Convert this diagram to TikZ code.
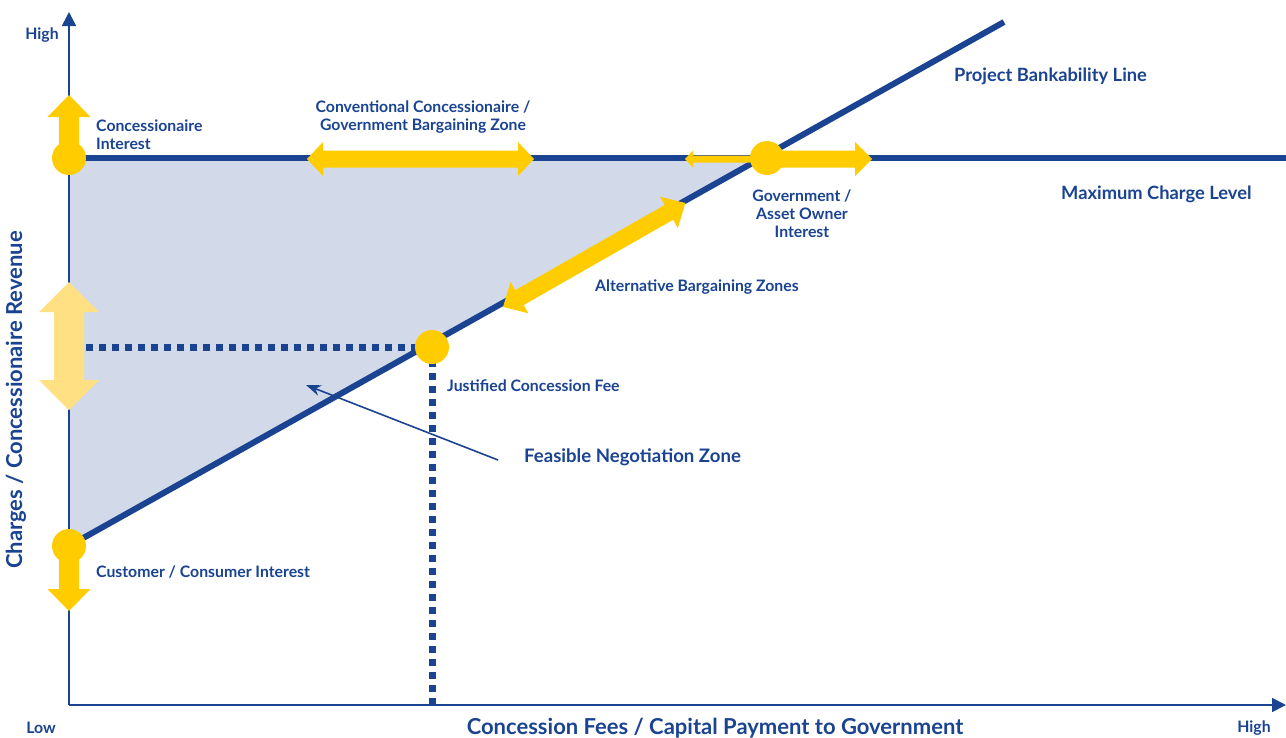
\documentclass[tikz,border=0pt]{standalone}
\usepackage{fontspec}
\setmainfont{Lato}
\usetikzlibrary{arrows.meta,calc}
\definecolor{navy}{RGB}{26,67,145}
\definecolor{gold}{RGB}{255,204,0}
\definecolor{paleg}{RGB}{255,224,130}
\definecolor{zone}{RGB}{210,217,232}
\begin{document}
\begin{tikzpicture}[x=1pt,y=-1pt,
  lbl/.style={text=navy,font=\fontsize{15.8}{18}\selectfont\bfseries,inner sep=0pt},
  rlbl/.style={text=navy,font=\fontsize{18.3}{20}\selectfont\bfseries,inner sep=0pt},
  biglbl/.style={text=navy,font=\fontsize{18.6}{22}\selectfont\bfseries,inner sep=0pt},
  axlbl/.style={text=navy,font=\fontsize{22}{26}\selectfont\bfseries,inner sep=0pt},
  thick line/.style={navy,line width=6pt},
  dotline/.style={navy,line width=7pt,dash pattern=on 6.5pt off 6.5pt},
  axis/.style={navy,line width=1.6pt,-{Triangle[length=14pt,width=14pt]}},
  dot/.style={gold}]
\useasboundingbox (0,0) rectangle (1286,737);
% coordinates
\coordinate (O) at (69,705);
\coordinate (ytop) at (69,12);
\coordinate (xend) at (1286,705);
\coordinate (ML0) at (69,158);
\coordinate (ML1) at (1286,158);
\coordinate (B0) at (69,546);
\coordinate (B1) at (1004,22);
\coordinate (X) at (intersection of B0--B1 and ML0--ML1);
\coordinate (J) at (432,347);
\coordinate (G) at (767,158);
\coordinate (Jh) at (86,347);
\coordinate (Jv) at (432,705);
% zone
\fill[zone] (ML0) -- (X) -- (B0) -- cycle;
% axes
\draw[axis] (O) -- (ytop);
\draw[axis] (O) -- (xend);
% dotted
\draw[dotline] (Jh) -- (J);
\draw[dotline] (J) -- (Jv);
% main lines
\draw[thick line] (ML0) -- (ML1);
\draw[thick line] (B0) -- (B1);
% pale double arrow on y-axis
\fill[paleg] (69,282) -- (99,312) -- (84,312) -- (84,380) -- (99,380) -- (69,410) -- (39,380) -- (54,380) -- (54,312) -- (39,312) -- cycle;
% concessionaire up arrow
\fill[gold] (ML0) circle (17pt);
\fill[gold] (59,158) -- (59,117) -- (47.5,117) -- (69,95) -- (90.5,117) -- (79,117) -- (79,158) -- cycle;
% customer down arrow
\fill[gold] (B0) circle (17pt);
\fill[gold] (59,546) -- (59,589) -- (47.5,589) -- (69,611) -- (90.5,589) -- (79,589) -- (79,546) -- cycle;
% conventional double arrow
\begin{scope}[shift={(307,159)}]
\fill[gold] (0,0) -- (16,-17) -- (16,-8.5) -- (211,-8.5) -- (211,-17) -- (227,0) -- (211,17) -- (211,8.5) -- (16,8.5) -- (16,17) -- cycle;
\end{scope}
% government arrows
\fill[gold] (G) circle (17pt);
\fill[gold] (767,155.5) -- (693,155.5) -- (693,150.5) -- (685,159) -- (693,167.5) -- (693,162.5) -- (767,162.5) -- cycle;
\fill[gold] (767,150.5) -- (855,150.5) -- (855,142) -- (872,159) -- (855,176) -- (855,167.5) -- (767,167.5) -- cycle;
% alternative bargaining double arrow
\begin{scope}[shift={(503,307)},rotate=29.7]
\fill[gold] (0,0) -- (19,-18) -- (19,-8.5) -- (191,-8.5) -- (191,-18) -- (210,0) -- (191,18) -- (191,8.5) -- (19,8.5) -- (19,18) -- cycle;
\end{scope}
% justified dot
\fill[gold] (J) circle (17pt);
% feasible pointer
\node[biglbl,anchor=west] (feas) at (524,457) {Feasible Negotiation Zone};
\coordinate (fz) at (306,385);
\draw[navy,line width=1.6pt,-{Stealth[length=15pt,width=11pt]}] (498,460) -- (fz);
% labels
\node[lbl] (hightop) at (42,35) {High};
\node[lbl,anchor=west,align=left] (conc) at (96,135) {Concessionaire\\Interest};
\node[lbl,align=center] (conv) at (423,117) {Conventional Concessionaire /\\Government Bargaining Zone};
\node[rlbl,anchor=west] (pbl) at (954,76) {Project Bankability Line};
\node[rlbl,anchor=west] (mcl) at (1061,194) {Maximum Charge Level};
\node[lbl,align=center] (gov) at (802,213.5) {Government /\\Asset Owner\\Interest};
\node[lbl,anchor=west] (alt) at (595,287) {Alternative Bargaining Zones};
\node[lbl,anchor=west] (jcf) at (447,386) {Justified Concession Fee};
\node[lbl,anchor=west] (cust) at (96,572) {Customer / Consumer Interest};
\node[lbl] (low) at (41,728) {Low};
\node[lbl] (highx) at (1254,728) {High};
\node[axlbl] (xlab) at (715,728) {Concession Fees / Capital Payment to Government};
\node[axlbl,rotate=90] (ylab) at (16,400) {Charges / Concessionaire Revenue};
\end{tikzpicture}
\end{document}
